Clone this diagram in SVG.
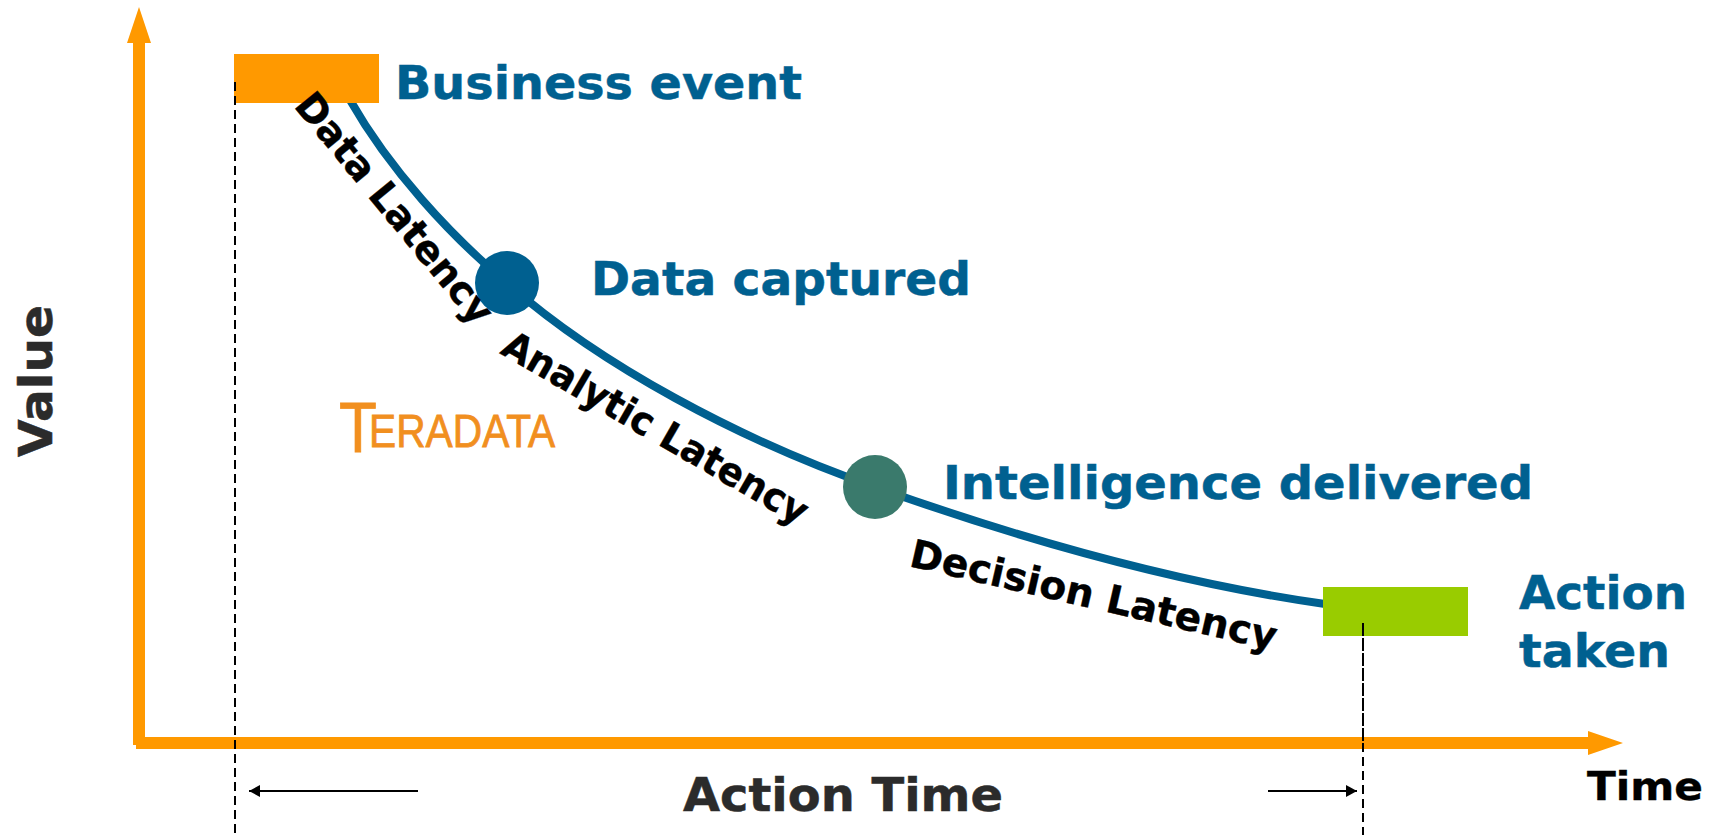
<svg xmlns="http://www.w3.org/2000/svg" width="1715" height="835" viewBox="0 0 1715 835">
<style>
text{font-family:"DejaVu Sans",Verdana,sans-serif;font-weight:700}
.blue{fill:#006090;font-size:47px;stroke:#006090;stroke-width:.5}
.black{fill:#000;font-size:39px;stroke:#000;stroke-width:.4}
.dark{fill:#2b2b2b;font-size:47px;stroke:#2b2b2b;stroke-width:.5}
.dash{stroke:#000;stroke-width:2;stroke-dasharray:9 5;fill:none}
.thin{stroke:#000;stroke-width:2;fill:none;marker-end:url(#tip)}
</style>
<defs><marker id="tip" markerUnits="userSpaceOnUse" markerWidth="11" markerHeight="12" refX="11" refY="6" orient="auto"><path d="M0 0L11 6L0 12z" fill="#000"/></marker></defs>
<rect width="1715" height="835" fill="#fff"/>
<g id="connectors">
<path id="curve" d="M350 100C390 170 450 235 507 283C600 365 740 440 875 487C1010 535 1170 582 1325 604" fill="none" stroke="#006090" stroke-width="8"/>
<path id="y-axis" d="M133 745V43H127L139 7L151 43H145V745z" fill="#f90"/>
<path id="x-axis" d="M136 737H1588V731L1623 743L1588 755V749H136z" fill="#f90"/>
<path class="thin" d="M418 791H249"/>
<path class="thin" d="M1268 791H1357"/>
</g>
<g id="business-event"><rect x="234" y="54" width="145" height="49" fill="#f90"/><text class="blue" x="395" y="99" textLength="407" lengthAdjust="spacingAndGlyphs">Business event</text></g>
<g id="data-captured"><circle cx="507" cy="283" r="32" fill="#006090"/><text class="blue" x="591" y="295" textLength="380" lengthAdjust="spacingAndGlyphs">Data captured</text></g>
<g id="intelligence-delivered"><circle cx="875" cy="487" r="32" fill="#3a7a6c"/><text class="blue" x="943" y="499" textLength="590" lengthAdjust="spacingAndGlyphs">Intelligence delivered</text></g>
<g id="action-taken"><rect x="1323" y="587" width="145" height="49" fill="#9c0"/><text class="blue" x="1519" y="609" textLength="168" lengthAdjust="spacingAndGlyphs">Action</text><text class="blue" x="1519" y="667" textLength="151" lengthAdjust="spacingAndGlyphs">taken</text></g>
<g id="guides">
<path class="dash" d="M235 82V835"/>
<path class="dash" d="M1363 743V835"/>
<path d="M1363 623V743" stroke="#000" stroke-width="2" stroke-dasharray="13 2" fill="none"/>
</g>
<g id="labels">
<text class="black" transform="translate(293 106) rotate(50.5)" textLength="287" lengthAdjust="spacingAndGlyphs">Data Latency</text>
<text class="black" transform="translate(499 353) rotate(30)" textLength="346" lengthAdjust="spacingAndGlyphs">Analytic Latency</text>
<text class="black" transform="translate(908 566) rotate(13)" textLength="375" lengthAdjust="spacingAndGlyphs">Decision Latency</text>
<text class="dark" transform="translate(52 457) rotate(-90)" textLength="152" lengthAdjust="spacingAndGlyphs">Value</text>
<text class="dark" x="683" y="811" textLength="320" lengthAdjust="spacingAndGlyphs">Action Time</text>
<text class="black" x="1587" y="800" textLength="116" lengthAdjust="spacingAndGlyphs">Time</text>
</g>
<g id="logo"><text transform="translate(339 447) scale(.885 1)" style="font-family:'Liberation Sans',sans-serif;font-weight:400;font-size:46px;fill:#f18f1f;stroke:#f18f1f;stroke-width:.8"><tspan x="0" y="5" style="font-size:70px">T</tspan><tspan x="34" y="0">ERADATA</tspan></text></g>
</svg>
